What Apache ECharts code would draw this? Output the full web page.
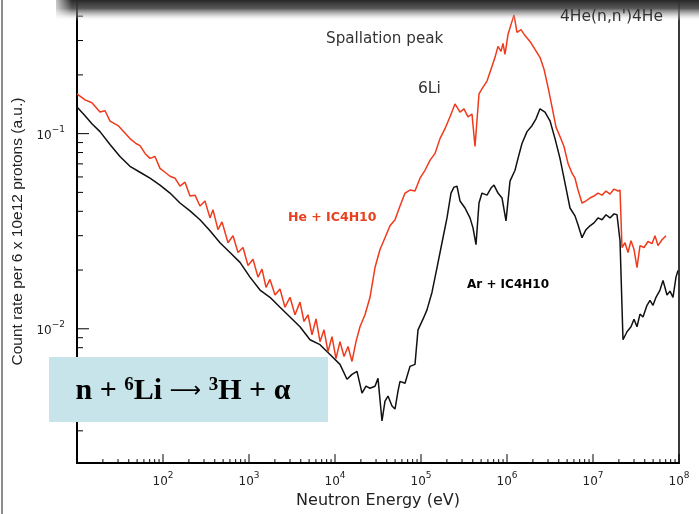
<!DOCTYPE html>
<html>
<head>
<meta charset="utf-8">
<script src="https://cdn.jsdelivr.net/npm/echarts@6/dist/echarts.min.js"></script>
<style>
  html, body { margin: 0; padding: 0; background: #fff; }
  #chart { width: 699px; height: 514px; }
</style>
</head>
<body>
<div id="chart"></div>
<script>
// He + iC4H10 (red)
const heEnergy = [10, 12.4, 14.9, 18.5, 21.2, 24.2, 30.0, 35.2, 41.3, 48.5,
  54.0, 61.8, 70.6, 80.7, 92.3, 105.5, 120.6, 137.9, 157.6, 180.2,
  206.1, 235.5, 269.3, 307.8, 352.0, 381.4, 436.0, 485.3, 570.1, 651.6,
  745.0, 851.5, 973.6, 1113, 1272, 1417, 1577, 1754, 2006, 2293,
  2621, 2998, 3427, 3917, 4361, 4853, 5402, 6013, 6693, 7449,
  8290, 9228, 10270, 11430, 12730, 14170, 15770, 17540, 19530, 22330,
  25530, 29180, 33370, 38140, 43610, 49860, 57000, 65160, 74500, 85150,
  97360, 111300, 127200, 145500, 166300, 190100, 217400, 248500, 262100, 284100,
  316200, 352000, 391700, 424600, 472500, 526000, 585400, 651600, 725200, 785800,
  851500, 898400, 947800, 1.027e6, 1.113e6, 1.206e6, 1.307e6, 1.455e6, 1.619e6, 1.851e6,
  2.117e6, 2.419e6, 2.693e6, 2.998e6, 3.337e6, 3.714e6, 4.133e6, 4.601e6, 5.121e6, 5.700e6,
  6.177e6, 6.693e6, 7.449e6, 8.290e6, 9.228e6, 1.027e7, 1.143e7, 1.273e7, 1.417e7, 1.577e7,
  1.754e7, 1.953e7, 2.061e7, 2.174e7, 2.356e7, 2.553e7, 2.766e7, 2.998e7, 3.248e7, 3.520e7,
  3.917e7, 4.361e7, 4.853e7, 5.260e7, 5.700e7, 6.344e7, 7.060e7];
const heCount = [0.160, 0.149, 0.144, 0.129, 0.131, 0.116, 0.110, 0.102, 0.0943, 0.0890,
  0.0869, 0.0792, 0.0747, 0.0764, 0.0664, 0.0634, 0.0605, 0.0591, 0.0538, 0.0564,
  0.0479, 0.0484, 0.0426, 0.0452, 0.0370, 0.0407, 0.0322, 0.0353, 0.0276, 0.0300,
  0.0246, 0.0261, 0.0211, 0.0227, 0.0184, 0.0202, 0.0163, 0.0179, 0.0149, 0.0160,
  0.0129, 0.0145, 0.0118, 0.0137, 0.0109, 0.0118, 0.00932, 0.01124, 0.00859, 0.00988,
  0.00764, 0.00911, 0.00704, 0.00859, 0.00721, 0.00811, 0.00680, 0.00859, 0.01024, 0.0118,
  0.0145, 0.0206, 0.0255, 0.0293, 0.0337, 0.0362, 0.0426, 0.0496, 0.0514, 0.0508,
  0.0591, 0.0649, 0.0729, 0.0792, 0.0943, 0.106, 0.122, 0.142, 0.145, 0.129,
  0.134, 0.122, 0.126, 0.0859, 0.160, 0.173, 0.186, 0.214, 0.246, 0.280,
  0.264, 0.290, 0.255, 0.322, 0.362, 0.406, 0.330, 0.341, 0.318, 0.297,
  0.270, 0.246, 0.214, 0.173, 0.137, 0.108, 0.0966, 0.0859, 0.0704, 0.0627,
  0.0591, 0.0514, 0.0441, 0.0452, 0.0468, 0.0479, 0.0496, 0.0484, 0.0508, 0.0490,
  0.0520, 0.0508, 0.0514, 0.0261, 0.0276, 0.0246, 0.0283, 0.0255, 0.0206, 0.0267,
  0.0261, 0.0280, 0.0273, 0.0300, 0.0267, 0.0286, 0.0300];

// Ar + iC4H10 (black)
const arEnergy = [10, 12.4, 14.9, 18.5, 24.2, 31.6, 41.3, 54.0, 70.6, 92.3,
  120.6, 157.6, 206.1, 269.3, 352.0, 460.0, 601.3, 785.8, 1027, 1343,
  1754, 2293, 2998, 3917, 5121, 6693, 8750, 11430, 13790, 15770,
  18020, 20610, 22930, 25530, 29180, 31620, 35200, 38140, 41330, 46010,
  49860, 54020, 57000, 65160, 74500, 85150, 92280, 105500, 117400, 134300,
  153500, 175400, 200600, 223300, 241900, 262100, 284100, 324800, 371400, 402400,
  436100, 472500, 512100, 585400, 651600, 706000, 785800, 874900, 973600, 1.084e6,
  1.239e6, 1.343e6, 1.494e6, 1.709e6, 1.953e6, 2.174e6, 2.419e6, 2.766e6, 3.162e6, 3.615e6,
  4.133e6, 4.725e6, 5.402e6, 6.177e6, 6.693e6, 7.449e6, 8.290e6, 9.228e6, 1.027e7, 1.143e7,
  1.273e7, 1.417e7, 1.577e7, 1.754e7, 1.901e7, 2.061e7, 2.233e7, 2.485e7, 2.766e7, 2.998e7,
  3.248e7, 3.520e7, 3.815e7, 4.246e7, 4.601e7, 4.985e7, 5.402e7, 6.013e7, 6.516e7, 7.252e7,
  7.858e7, 8.515e7, 9.228e7, 9.736e7];
const arCount = [0.137, 0.1234, 0.1124, 0.1024, 0.0879, 0.0764, 0.0680, 0.0634, 0.0591, 0.0545,
  0.0496, 0.0441, 0.0402, 0.0362, 0.0318, 0.0276, 0.0246, 0.0219, 0.0184, 0.0158,
  0.0145, 0.0129, 0.0115, 0.01024, 0.00879, 0.00829, 0.00738, 0.00657, 0.00551, 0.00584,
  0.00605, 0.00468, 0.00508, 0.00496, 0.00508, 0.00557, 0.00337, 0.00426, 0.00452, 0.00402,
  0.00388, 0.00479, 0.00538, 0.00526, 0.00642, 0.00657, 0.00988, 0.0112, 0.0125, 0.0154,
  0.0206, 0.0276, 0.0370, 0.0496, 0.0532, 0.0538, 0.0452, 0.0416, 0.0370, 0.0329,
  0.0270, 0.0441, 0.0496, 0.0484, 0.0526, 0.0545, 0.0496, 0.0468, 0.0357, 0.0571,
  0.0649, 0.0747, 0.0890, 0.1024, 0.1098, 0.1192, 0.134, 0.129, 0.1164, 0.0943,
  0.0747, 0.0558, 0.0416, 0.0379, 0.0341, 0.0293, 0.0322, 0.0337, 0.0349, 0.0370,
  0.0362, 0.0384, 0.0370, 0.0388, 0.0384, 0.0283, 0.00879, 0.00966, 0.01024, 0.0112,
  0.01024, 0.0119, 0.0115, 0.0132, 0.0140, 0.0132, 0.0145, 0.0158, 0.0177, 0.0149,
  0.0156, 0.0145, 0.0184, 0.0199];

// axis ranges and tick decades
const xMin = 10, xMax = 1e8;
const yMin = 0.00205, yMax = 0.484;
const xDecades = [1e1, 1e2, 1e3, 1e4, 1e5, 1e6, 1e7, 1e8];
const yDecades = [1e-3, 1e-2, 1e-1];

// every tick value (1..9 x decade) inside the axis range
const xTicks = [];
xDecades.forEach(d => { for (let m = 1; m <= 9; m++) { const v = m * d; if (v >= xMin && v <= xMax) xTicks.push(v); } });
const yTicks = [];
yDecades.forEach(d => { for (let m = 1; m <= 9; m++) { const v = m * d; if (v >= yMin && v <= yMax) yTicks.push(v); } });

const isDecade = v => { const e = Math.round(Math.log10(v)); return Math.abs(v / Math.pow(10, e) - 1) < 1e-6; };

const chart = echarts.init(document.getElementById('chart'));

const labelRich = {
  b: { fontFamily: 'DejaVu Sans', fontSize: 12, color: '#222', lineHeight: 17, verticalAlign: 'bottom' },
  s: { fontFamily: 'DejaVu Sans', fontSize: 9, color: '#222', verticalAlign: 'top' }
};

chart.setOption({
  animation: false,
  backgroundColor: '#fff',
  grid: { left: 77, right: 20, top: 0, bottom: 46, show: true, borderColor: '#3a3a3a', borderWidth: 2 },
  xAxis: {
    type: 'log', min: xMin, max: xMax,
    name: 'Neutron Energy (eV)', nameLocation: 'middle', nameGap: 24,
    nameTextStyle: { fontFamily: 'DejaVu Sans', fontSize: 16, color: '#222', verticalAlign: 'top' },
    axisLine: { lineStyle: { color: '#000', width: 2 } },
    axisTick: { show: false },
    splitLine: { show: false },
    axisLabel: {
      margin: 8,
      formatter: v => {
        const e = Math.round(Math.log10(v));
        if (!isDecade(v) || e === 1) return '';
        return '{b|10}{s|' + e + '}';
      },
      rich: labelRich
    }
  },
  yAxis: {
    type: 'log', min: yMin, max: yMax,
    name: 'Count rate per 6 x 10e12 protons (a.u.)', nameLocation: 'middle', nameGap: 40,
    nameTextStyle: { fontFamily: 'Liberation Sans', fontSize: 15.5, color: '#222' },
    axisLine: { lineStyle: { color: '#000', width: 2 } },
    axisTick: { show: false },
    splitLine: { show: false },
    axisLabel: {
      margin: 12,
      formatter: v => {
        if (!isDecade(v)) return '';
        const e = Math.round(Math.log10(v));
        return '{b|10}{s|\u2212' + (-e) + '}';
      },
      rich: labelRich
    }
  },
  series: [
    {
      name: 'x ticks', type: 'custom', silent: true, clip: false, z: 5,
      data: xTicks.map(v => [v, yMin]),
      renderItem: (params, api) => {
        const v = api.value(0);
        const p = api.coord([v, api.value(1)]);
        const len = isDecade(v) ? 9 : 4;
        return { type: 'line', shape: { x1: p[0], y1: p[1], x2: p[0], y2: p[1] - len }, style: { stroke: '#000', lineWidth: 1 } };
      }
    },
    {
      name: 'y ticks', type: 'custom', silent: true, clip: false, z: 5,
      data: yTicks.map(v => [xMin, v]),
      renderItem: (params, api) => {
        const v = api.value(1);
        const p = api.coord([api.value(0), v]);
        const len = isDecade(v) ? 12 : 6;
        return { type: 'line', shape: { x1: p[0], y1: p[1], x2: p[0] + len, y2: p[1] }, style: { stroke: '#000', lineWidth: 1 } };
      }
    },
    {
      name: 'Ar + IC4H10', type: 'line', symbol: 'none', z: 3,
      data: arEnergy.map((e, i) => [e, arCount[i]]),
      lineStyle: { color: '#111', width: 1.5 }
    },
    {
      name: 'He + IC4H10', type: 'line', symbol: 'none', z: 4,
      data: heEnergy.map((e, i) => [e, heCount[i]]),
      lineStyle: { color: '#f03a1c', width: 1.5 }
    }
  ],
  graphic: [
    // outer slide frame
    { type: 'line', z: 50, shape: { x1: 2, y1: 0, x2: 2, y2: 514 }, style: { stroke: '#8c8c8c', lineWidth: 2 } },
    // soft shadow under the top band
    { type: 'rect', z: 59, shape: { x: 56, y: 0, width: 660, height: 21 },
      style: { fill: new echarts.graphic.LinearGradient(0, 0, 0, 1, [
        { offset: 0, color: 'rgba(40,40,40,1)' },
        { offset: 0.4, color: 'rgba(70,70,70,0.9)' },
        { offset: 0.7, color: 'rgba(150,150,150,0.5)' },
        { offset: 1, color: 'rgba(255,255,255,0)' }
      ]) } },
    // left fade of the band
    { type: 'rect', z: 60, shape: { x: 50, y: 0, width: 22, height: 21 },
      style: { fill: new echarts.graphic.LinearGradient(0, 0, 1, 0, [
        { offset: 0, color: 'rgba(255,255,255,1)' },
        { offset: 1, color: 'rgba(255,255,255,0)' }
      ]) } },
    // annotations
    { type: 'text', z: 70, x: 560, y: 17, style: { text: "4He(n,n')4He", fontFamily: 'DejaVu Sans', fontSize: 15.5, fill: '#333', verticalAlign: 'middle' } },
    { type: 'text', z: 70, x: 326, y: 39, style: { text: 'Spallation peak', fontFamily: 'DejaVu Sans', fontSize: 15.2, fill: '#333', verticalAlign: 'middle' } },
    { type: 'text', z: 70, x: 418, y: 89, style: { text: '6Li', fontFamily: 'DejaVu Sans', fontSize: 15.5, fill: '#333', verticalAlign: 'middle' } },
    { type: 'text', z: 70, x: 288, y: 218, style: { text: 'He + IC4H10', fontFamily: 'DejaVu Sans', fontWeight: 'bold', fontSize: 12.5, fill: '#e8401e', verticalAlign: 'middle' } },
    { type: 'text', z: 70, x: 467, y: 285, style: { text: 'Ar + IC4H10', fontFamily: 'DejaVu Sans', fontWeight: 'bold', fontSize: 12, fill: '#000', verticalAlign: 'middle' } },
    // reaction box
    { type: 'rect', z: 80, shape: { x: 49, y: 357, width: 279, height: 65 }, style: { fill: '#c6e4e9' } },
    { type: 'text', z: 81, x: 183, y: 391,
      style: {
        text: '{t|n + }{s|6}{t|Li }{a|\u27f6}{t| }{s|3}{t|H + \u03b1}',
        align: 'center', verticalAlign: 'middle',
        rich: {
          t: { fontFamily: 'Liberation Serif', fontWeight: 'bold', fontSize: 30, fill: '#000', lineHeight: 31, verticalAlign: 'bottom' },
          s: { fontFamily: 'Liberation Serif', fontWeight: 'bold', fontSize: 19, fill: '#000', verticalAlign: 'top' },
          a: { fontFamily: 'DejaVu Sans', fontSize: 22, fill: '#000', verticalAlign: 'middle' }
        }
      } }
  ]
});
</script>
</body>
</html>
